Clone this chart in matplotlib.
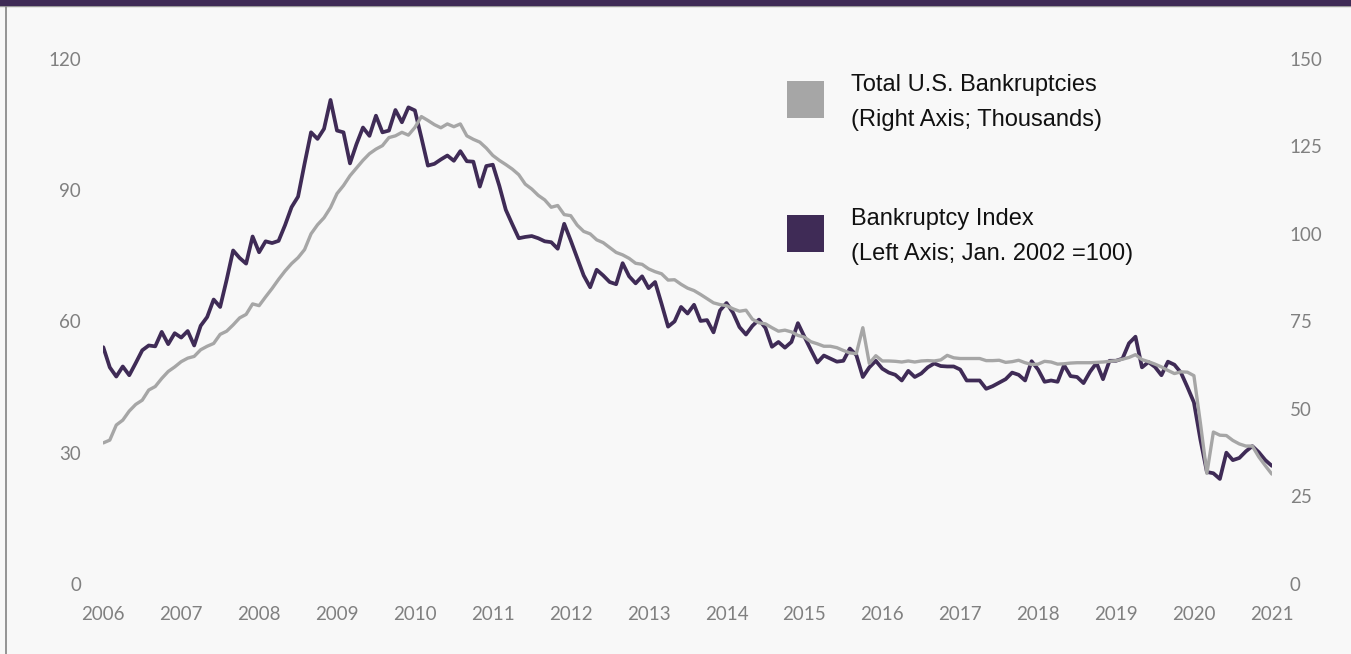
import matplotlib
matplotlib.use("Agg")
import matplotlib.pyplot as plt
import numpy as np
from matplotlib.patches import Rectangle
from matplotlib.lines import Line2D

# ---------------- data (monthly, Jan 2006 .. Jan 2021) ----------------
start_year = 2006
x_tick_labels = [str(y) for y in range(2006, 2022)]
left_ticks = [0, 30, 60, 90, 120]
right_ticks = [0, 25, 50, 75, 100, 125, 150]

# Bankruptcy Index (left axis; Jan. 2002 = 100)
bankruptcy_index = [
    54.1, 49.5, 47.4, 49.7, 47.7, 50.5, 53.4, 54.5, 54.3, 57.6, 54.8, 57.3,   # 2006
    56.3, 57.8, 54.5, 59.0, 61.0, 65.0, 63.3, 69.5, 76.2, 74.5, 73.2, 79.4,   # 2007
    75.8, 78.3, 77.9, 78.4, 82.0, 86.1, 88.5, 96.0, 103.2, 101.7, 104.0, 110.6,  # 2008
    103.6, 103.2, 96.1, 100.5, 104.3, 102.4, 107.0, 103.2, 103.6, 108.3, 105.5, 108.9,  # 2009
    108.2, 102.0, 95.6, 96.0, 97.0, 97.9, 96.7, 98.9, 96.6, 96.5, 90.8, 95.5,   # 2010
    95.8, 91.0, 85.5, 82.2, 79.0, 79.3, 79.5, 79.0, 78.3, 78.1, 76.6, 82.3,     # 2011
    78.5, 74.5, 70.5, 67.8, 71.8, 70.5, 69.0, 68.5, 73.3, 70.3, 68.7, 70.3,     # 2012
    67.6, 69.0, 64.0, 58.8, 60.0, 63.3, 61.8, 63.8, 60.1, 60.3, 57.5, 62.5,     # 2013
    64.2, 62.0, 58.7, 57.0, 59.0, 60.4, 58.5, 54.2, 55.3, 54.0, 55.3, 59.6,     # 2014
    56.5, 53.5, 50.6, 52.2, 51.5, 50.8, 51.0, 53.8, 52.3, 47.3, 49.5, 51.0,     # 2015
    49.2, 48.3, 47.8, 46.5, 48.7, 47.3, 48.1, 49.5, 50.4, 49.8, 49.7, 49.7,     # 2016
    49.0, 46.5, 46.5, 46.5, 44.6, 45.2, 46.0, 46.8, 48.3, 47.8, 46.5, 50.9,     # 2017
    49.0, 46.2, 46.5, 46.2, 50.0, 47.5, 47.3, 45.9, 48.5, 50.5, 46.8, 51.0,     # 2018
    51.0, 51.5, 55.0, 56.5, 49.5, 50.7, 49.6, 47.7, 50.8, 50.1, 48.3, 45.0,     # 2019
    41.5, 33.0, 25.6, 25.3, 24.0, 30.0, 28.3, 28.8, 30.3, 31.5, 30.1, 28.3,     # 2020
    27.0,                                                                       # 2021
]

# Total U.S. Bankruptcies (right axis; thousands)
total_bankruptcies = [
    40.3, 41.1, 45.4, 46.8, 49.4, 51.3, 52.5, 55.4, 56.4, 58.7, 60.7, 62.0,     # 2006
    63.5, 64.5, 65.0, 66.9, 67.9, 68.7, 71.3, 72.2, 74.0, 76.0, 77.0, 80.0,     # 2007
    79.5, 82.0, 84.4, 87.0, 89.4, 91.5, 93.2, 95.5, 100.0, 102.6, 104.6, 107.5,  # 2008
    111.5, 113.8, 116.6, 118.8, 121.0, 122.9, 124.2, 125.2, 127.5, 128.0, 129.0, 128.2,  # 2009
    130.4, 133.5, 132.4, 131.2, 130.3, 131.4, 130.6, 131.4, 128.0, 127.0, 126.2, 124.5,  # 2010
    122.4, 121.0, 119.8, 118.5, 116.9, 114.2, 112.8, 111.0, 109.7, 107.6, 108.1, 105.5,  # 2011
    105.2, 102.5, 100.7, 100.0, 98.3, 97.5, 96.1, 94.7, 94.0, 93.0, 91.6, 91.3,  # 2012
    90.0, 89.2, 88.6, 86.8, 86.9, 85.6, 84.5, 83.8, 82.7, 81.5, 80.3, 79.8,     # 2013
    79.5, 78.6, 77.9, 78.2, 75.6, 74.6, 74.3, 73.2, 72.2, 72.5, 72.0, 71.0,     # 2014
    70.5, 69.2, 68.6, 67.9, 67.9, 67.5, 66.7, 66.0, 65.8, 73.2, 63.0, 65.2,     # 2015
    63.7, 63.7, 63.6, 63.4, 63.7, 63.4, 63.7, 63.8, 63.7, 64.0, 65.3, 64.6,     # 2016
    64.4, 64.4, 64.4, 64.4, 63.8, 63.8, 63.9, 63.3, 63.5, 63.9, 63.2, 62.7,     # 2017
    62.8, 63.6, 63.4, 62.8, 62.9, 63.1, 63.2, 63.2, 63.2, 63.3, 63.4, 63.6,     # 2018
    63.8, 64.2, 64.7, 65.5, 64.1, 63.5, 62.8, 62.0, 61.0, 60.1, 60.6, 60.5,     # 2019
    59.5, 46.0, 31.6, 43.4, 42.5, 42.4, 41.0, 40.0, 39.4, 39.4, 36.3, 33.8,     # 2020
    31.4,                                                                       # 2021
]

legend_labels = [
    ("Total U.S. Bankruptcies", "(Right Axis; Thousands)"),
    ("Bankruptcy Index", "(Left Axis; Jan. 2002 =100)"),
]

# ---------------- style ----------------
PURPLE = "#3f2b56"
GRAY = "#a6a6a6"
BG = "#f8f8f8"
TICK_COLOR = "#808080"

W, H = 1351, 654
fig = plt.figure(figsize=(W / 100, H / 100), dpi=100, facecolor=BG)

ax_left, ax_right_px = 103.3, 1271.8
ax_top, ax_bottom = 58.8, 584.0
ax = fig.add_axes([ax_left / W, (H - ax_bottom) / H,
                   (ax_right_px - ax_left) / W, (ax_bottom - ax_top) / H])
ax.set_facecolor(BG)
ax2 = ax.twinx()

xs = start_year + np.arange(len(bankruptcy_index)) / 12.0
xs2 = start_year + np.arange(len(total_bankruptcies)) / 12.0

ax.plot(xs, bankruptcy_index, color=PURPLE, lw=2.7,
        solid_joinstyle="round", solid_capstyle="round")
ax2.plot(xs2, total_bankruptcies, color=GRAY, lw=2.4,
         solid_joinstyle="round", solid_capstyle="round")

ax.set_xlim(2006, 2021)
ax.set_ylim(0, 120)
ax2.set_ylim(0, 150)
ax.set_xticks(range(2006, 2022))
ax.set_xticklabels(x_tick_labels)
ax.set_yticks(left_ticks)
ax2.set_yticks(right_ticks)

for a in (ax, ax2):
    for s in a.spines.values():
        s.set_visible(False)

tick_font = "Lato"
ax.tick_params(axis="x", length=0, pad=16, labelsize=13.5, labelcolor=TICK_COLOR)
ax.tick_params(axis="y", length=0, pad=16, labelsize=13.5, labelcolor=TICK_COLOR)
ax2.tick_params(axis="y", length=0, pad=13, labelsize=13.5, labelcolor=TICK_COLOR)
for lab in ax.get_xticklabels() + ax.get_yticklabels() + ax2.get_yticklabels():
    lab.set_fontfamily(tick_font)

# ---------------- frame decorations ----------------
fig.patches.append(Rectangle((0, 1 - 5.5 / H), 1, 5.5 / H, transform=fig.transFigure,
                             facecolor=PURPLE, edgecolor="none", zorder=5))
fig.lines.append(Line2D([0, 1], [1 - 6.2 / H, 1 - 6.2 / H], transform=fig.transFigure,
                        color="#9a9a9a", lw=1.0, zorder=5))
fig.lines.append(Line2D([6 / W, 6 / W], [0, 1 - 5 / H], transform=fig.transFigure,
                        color="#8c8c8c", lw=1.3, zorder=5))

# ---------------- legend (manual) ----------------
sq_x0, sq_w = 787, 37
legend_rows = [(81, GRAY), (215, PURPLE)]
for (top_px, col), (l1, l2) in zip(legend_rows, legend_labels):
    fig.patches.append(Rectangle((sq_x0 / W, 1 - (top_px + sq_w) / H), sq_w / W, sq_w / H,
                                 transform=fig.transFigure, facecolor=col,
                                 edgecolor="none"))
    fig.text(851 / W, 1 - (top_px + 10.5) / H, l1, fontsize=17,
             family="Liberation Sans", color="#111111", va="baseline", ha="left")
    fig.text(851 / W, 1 - (top_px + 45) / H, l2, fontsize=17,
             family="Liberation Sans", color="#111111", va="baseline", ha="left")

fig.savefig("out.png", dpi=100, facecolor=BG)
